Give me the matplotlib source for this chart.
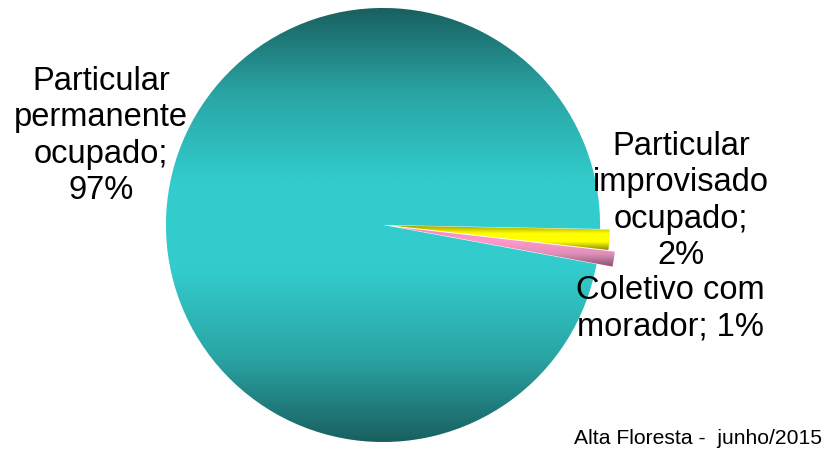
import matplotlib
matplotlib.use("Agg")
import matplotlib.pyplot as plt
import numpy as np
from matplotlib.colors import LinearSegmentedColormap

categories = ["Particular\npermanente\nocupado", "Particular\nimprovisado\nocupado", "Coletivo com\nmorador"]
values = [97.4, 1.5, 1.1]
pct_labels = ["97%", "2%", "1%"]
footer = "Alta Floresta -  junho/2015"

plt.rcParams['font.family'] = ['Liberation Sans', 'DejaVu Sans']

W, H = 828, 449
fig = plt.figure(figsize=(W / 100, H / 100), dpi=100)
ax = fig.add_axes([0, 0, 1, 1])

cx, cy, r = 383, 449 - 225, 217
explode_frac = [0, 0.045, 0.075]
wedges, _ = ax.pie(values, startangle=-10.4, counterclock=False, center=(cx, cy), radius=r,
                   explode=[e * r for e in explode_frac], colors=['#33cccc', '#ffff00', '#ff99cc'],
                   wedgeprops=dict(edgecolor='white', linewidth=0.6), frame=True)

cmaps = [
    LinearSegmentedColormap.from_list('t', ['#1a6060', '#2aa6a6', '#33cccc', '#33cccc', '#2aa6a6', '#1a6060']),
    LinearSegmentedColormap.from_list('y', ['#9a9a00', '#ffff00', '#ffff00', '#8a8a00']),
    LinearSegmentedColormap.from_list('p', ['#ee88bb', '#ff99cc', '#e090b8', '#885070']),
]
for w, cm in zip(wedges, cmaps):
    bb = w.get_path().get_extents(w.get_transform()).transformed(ax.transData.inverted())
    grad = np.linspace(0, 1, 256).reshape(-1, 1)
    im = ax.imshow(grad, extent=[bb.x0, bb.x1, bb.y0, bb.y1], origin='upper', cmap=cm,
                   aspect='auto', zorder=w.get_zorder() + 0.1, interpolation='bilinear')
    im.set_clip_path(w)

ax.set_xlim(0, W)
ax.set_ylim(0, H)
ax.axis('off')

fs = 23.5
ls = 1.22
ax.text(101, H - 136, categories[0] + ";\n" + pct_labels[0], ha='center', va='center',
        multialignment='center', fontsize=fs, linespacing=ls, color='black')
ax.text(681, H - 201, categories[1] + ";\n" + pct_labels[1], ha='center', va='center',
        multialignment='center', fontsize=fs, linespacing=ls, color='black')
ax.text(670, H - 309, categories[2] + "; " + pct_labels[2], ha='center', va='center',
        multialignment='center', fontsize=fs, linespacing=ls, color='black')
ax.text(822, H - 439, footer, ha='right', va='center', fontsize=15.2, color='black')

fig.savefig("out.png", dpi=100)
